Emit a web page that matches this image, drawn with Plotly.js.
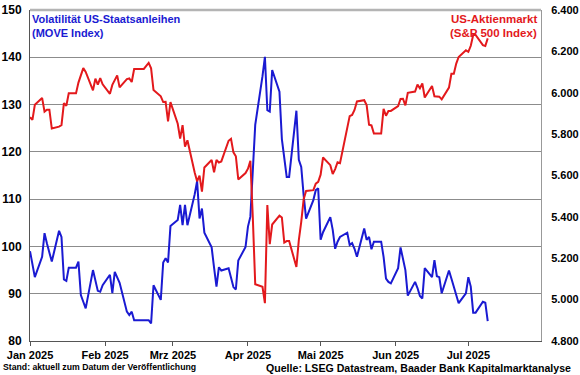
<!DOCTYPE html>
<html>
<head>
<meta charset="utf-8">
<script src="https://cdn.plot.ly/plotly-3.0.1.min.js"></script>
<style>
html,body{margin:0;padding:0;background:#fff;}
#chart{width:580px;height:375px;}
</style>
</head>
<body>
<div id="chart"></div>
<script>
// Trading days (weekdays) 2025, per month
const daysJan = [1,2,3,6,7,8,9,10,13,14,15,16,17,20,21,22,23,24,27,28,29,30,31];
const daysFeb = [3,4,5,6,7,10,11,12,13,14,17,18,19,20,21,24,25,26,27,28];
const daysMar = [3,4,5,6,7,10,11,12,13,14,17,18,19,20,21,24,25,26,27,28,31];
const daysApr = [1,2,3,4,7,8,9,10,11,14,15,16,17,18,21,22,23,24,25,28,29,30];
const daysMay = [1,2,5,6,7,8,9,12,13,14,15,16,19,20,21,22,23,26,27,28,29,30];
const daysJun = [2,3,4,5,6,9,10,11,12,13,16,17,18,19,20,23,24,25,26,27,30];
const daysJul = [1,2,3,4,7,8,9];

// MOVE Index (left axis)
const moveIndex = [
  99.0,96.2,93.5,97.8,102.8,100.6,98.7,96.8,103.3,102.0,93.0,92.7,95.5,95.5,96.8,89.7,88.3,86.9,95.0,92.8,90.6,90.4,91.8,
  94.0,90.1,94.6,93.6,92.3,86.2,85.5,86.2,84.4,84.4,84.4,84.4,84.4,83.7,91.8,88.7,96.6,97.5,96.6,104.3,
  105.6,108.8,104.5,108.8,104.5,111.0,113.8,105.9,108.0,102.9,99.8,95.5,91.5,95.6,94.9,95.4,93.5,91.4,90.9,97.0,99.9,
  104.2,106.3,116.0,125.7,136.0,140.1,128.8,128.5,137.3,132.7,122.7,118.8,114.7,114.7,128.7,118.3,116.8,110.8,105.9,109.8,111.9,112.3,
  101.4,103.0,106.2,103.5,99.5,101.0,102.0,102.9,100.3,100.7,99.5,97.8,103.8,101.4,102.0,99.4,101.0,101.0,97.8,93.2,92.5,92.2,
  95.4,99.8,97.3,95.0,89.6,92.5,91.2,89.5,89.0,95.4,93.5,97.1,93.7,93.5,90.1,94.9,93.2,91.5,89.8,88.0,90.1,
  93.5,91.5,86.0,86.0,88.3,88.1,84.2
];

// S&P 500 Index (right axis)
const sp500 = [
  5882,5869,5942,5975,5909,5918,5918,5827,5836,5843,5950,5937,5997,5997,6049,6086,6119,6101,6012,6068,6039,6071,6041,
  5995,6038,6061,6084,6026,6066,6069,6052,6115,6115,6115,6130,6144,6118,6013,5983,5955,5956,5862,5955,
  5850,5778,5843,5739,5770,5615,5572,5599,5522,5639,5675,5615,5675,5663,5668,5768,5777,5712,5693,5581,5612,
  5633,5671,5397,5074,5062,4983,5457,5268,5363,5406,5397,5276,5283,5283,5158,5288,5376,5485,5525,5529,5561,5569,
  5604,5687,5650,5607,5631,5664,5660,5844,5887,5893,5917,5958,5964,5940,5845,5842,5803,5803,5922,5889,5912,5912,
  5936,5970,5971,5939,6000,6006,6039,6022,6045,5977,6033,5983,5981,5981,5968,6025,6092,6092,6141,6173,6205,
  6198,6227,6279,6279,6230,6226,6263
];

const monthTicks = ['2025-01-01','2025-02-01','2025-03-01','2025-04-01','2025-05-01','2025-06-01','2025-07-01'];
const monthLabels = ['Jan 2025','Feb 2025','Mrz 2025','Apr 2025','Mai 2025','Jun 2025','Jul 2025'];
const leftTicks = [80,90,100,110,120,130,140,150];
const rightTicks = [4800,5000,5200,5400,5600,5800,6000,6200,6400];
const rightLabels = ['4.800','5.000','5.200','5.400','5.600','5.800','6.000','6.200','6.400'];

const pad = n => (n < 10 ? '0' : '') + n;
const dates = [];
[daysJan,daysFeb,daysMar,daysApr,daysMay,daysJun,daysJul].forEach((arr, m) => {
  arr.forEach(d => dates.push('2025-' + pad(m + 1) + '-' + pad(d)));
});

const FONT = 'Liberation Sans, Arial, sans-serif';
const BLUE = '#1a1ad2';
const RED = '#e3191c';

const traces = [
  {x: dates, y: moveIndex, type: 'scatter', mode: 'lines', yaxis: 'y',
   line: {color: BLUE, width: 2}, hoverinfo: 'skip'},
  {x: dates, y: sp500, type: 'scatter', mode: 'lines', yaxis: 'y2',
   line: {color: RED, width: 2}, hoverinfo: 'skip'}
];

const layout = {
  width: 580, height: 375,
  margin: {l: 30, r: 39, t: 10, b: 34, pad: 0},
  paper_bgcolor: '#ffffff', plot_bgcolor: '#ffffff',
  showlegend: false,
  font: {family: FONT, color: '#000'},
  xaxis: {
    type: 'date', range: ['2025-01-01', '2025-07-31'],
    tickmode: 'array', tickvals: monthTicks, ticktext: monthLabels,
    ticks: 'outside', ticklen: 4, tickcolor: '#555', tickwidth: 1,
    showgrid: false, zeroline: false,
    showline: true, linecolor: '#555', linewidth: 1,
    ticklabelstandoff: 0,
    tickfont: {family: FONT, size: 11, weight: 'bold', color: '#000'}
  },
  yaxis: {
    range: [80, 150], tickmode: 'array', tickvals: leftTicks,
    showgrid: true, gridcolor: '#8c8c8c', gridwidth: 1,
    zeroline: false, showline: true, linecolor: '#555', linewidth: 1,
    ticks: '', ticklabelstandoff: 5,
    tickfont: {family: FONT, size: 12, weight: 'bold', color: '#000'}
  },
  yaxis2: {
    overlaying: 'y', side: 'right',
    range: [4800, 6400], tickmode: 'array', tickvals: rightTicks, ticktext: rightLabels,
    showgrid: false, zeroline: false, showline: true, linecolor: '#999', linewidth: 1,
    ticks: '', ticklabelstandoff: 7,
    tickfont: {family: FONT, size: 11, weight: 'bold', color: '#000'}
  },
  shapes: [
    {type: 'line', xref: 'paper', yref: 'paper', x0: 0, x1: 1, y0: 1, y1: 1,
     line: {color: '#b4b4b4', width: 2.5}}
  ],
  annotations: [
    {xref: 'paper', yref: 'paper', x: 0.0, y: 0.996, xanchor: 'left', yanchor: 'top',
     text: 'Volatilität US-Staatsanleihen', showarrow: false,
     font: {family: FONT, size: 11, weight: 'bold', color: BLUE}},
    {xref: 'paper', yref: 'paper', x: 0.0, y: 0.955, xanchor: 'left', yanchor: 'top',
     text: '(MOVE Index)', showarrow: false,
     font: {family: FONT, size: 11, weight: 'bold', color: BLUE}},
    {xref: 'paper', yref: 'paper', x: 0.997, y: 0.996, xanchor: 'right', yanchor: 'top',
     text: 'US-Aktienmarkt', showarrow: false,
     font: {family: FONT, size: 11.5, weight: 'bold', color: RED}},
    {xref: 'paper', yref: 'paper', x: 0.997, y: 0.955, xanchor: 'right', yanchor: 'top',
     text: '(S&amp;P 500 Index)', showarrow: false,
     font: {family: FONT, size: 11.5, weight: 'bold', color: RED}},
    {xref: 'paper', yref: 'paper', x: -0.056, y: -0.058, xanchor: 'left', yanchor: 'top',
     text: 'Stand: aktuell zum Datum der Veröffentlichung', showarrow: false,
     font: {family: FONT, size: 8.7, weight: 'bold', color: '#000'}},
    {xref: 'paper', yref: 'paper', x: 1.063, y: -0.056, xanchor: 'right', yanchor: 'top',
     text: 'Quelle: LSEG Datastream, Baader Bank Kapitalmarktanalyse', showarrow: false,
     font: {family: FONT, size: 10.6, weight: 'bold', color: '#000'}}
  ]
};

Plotly.newPlot('chart', traces, layout, {staticPlot: true, displayModeBar: false});
</script>
</body>
</html>
